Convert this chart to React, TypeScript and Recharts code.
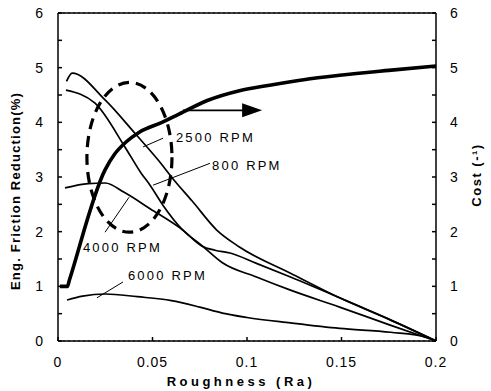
import { LineChart, Line, XAxis, YAxis, CartesianGrid, ReferenceLine, ReferenceArea, ReferenceDot, Label } from 'recharts'

// roughness (Ra) ticks and friction / cost ticks
const xTicks = [0, 0.05, 0.1, 0.15, 0.2]
const yTicks = [0, 0.5, 1, 1.5, 2, 2.5, 3, 3.5, 4, 4.5, 5, 5.5, 6]

// [roughness, friction reduction %]
const rpm2500: [number, number][] = [
  [0.0045, 4.75], [0.0075, 4.9], [0.0249, 4.41], [0.0407, 3.8], [0.053, 3.31], [0.061, 2.96],
  [0.071, 2.56], [0.084, 2.03], [0.096, 1.72], [0.123, 1.24], [0.149, 0.79], [0.175, 0.4], [0.2, 0],
]
const rpm800: [number, number][] = [
  [0.0042, 4.59], [0.0196, 4.35], [0.0354, 3.55], [0.044, 3.07], [0.0487, 2.85], [0.0556, 2.48],
  [0.066, 2.03], [0.076, 1.75], [0.087, 1.43], [0.105, 1.17], [0.123, 0.93], [0.149, 0.62],
  [0.175, 0.3], [0.2, 0],
]
const rpm4000: [number, number][] = [
  [0.0037, 2.8], [0.016, 2.88], [0.025, 2.89], [0.035, 2.72], [0.0487, 2.42], [0.066, 2.03],
  [0.076, 1.74], [0.083, 1.66], [0.091, 1.61], [0.105, 1.42], [0.123, 1.17], [0.149, 0.79],
  [0.175, 0.4], [0.2, 0],
]
const rpm6000: [number, number][] = [
  [0.0048, 0.75], [0.013, 0.82], [0.025, 0.86], [0.042, 0.81], [0.06, 0.74], [0.075, 0.62],
  [0.087, 0.51], [0.1, 0.43], [0.123, 0.33], [0.149, 0.23], [0.176, 0.16], [0.195, 0.07], [0.2, 0],
]
// [roughness, cost]
const cost: [number, number][] = [
  [0.001, 1.0], [0.005, 1.0], [0.006, 1.11], [0.0249, 3.13], [0.03, 3.42], [0.036, 3.64],
  [0.043, 3.82], [0.055, 4.0], [0.064, 4.15], [0.079, 4.4], [0.096, 4.58], [0.112, 4.68],
  [0.13, 4.78], [0.149, 4.86], [0.175, 4.95], [0.2, 5.03],
]

// curve labels: text, x, y, pointer from, pointer to
const labels: { text: string; x: number; y: number; from: [number, number]; to: [number, number] }[] = [
  { text: '2500 RPM', x: 0.0624, y: 3.71, from: [0.0556, 3.71], to: [0.045, 3.55] },
  { text: '800 RPM', x: 0.0815, y: 3.2, from: [0.0804, 3.25], to: [0.0503, 2.85] },
  { text: '4000 RPM', x: 0.0132, y: 1.7, from: [0.0249, 1.99], to: [0.0376, 2.63] },
  { text: '6000 RPM', x: 0.037, y: 1.17, from: [0.0206, 0.79], to: [0.0344, 1.08] },
]

const toPts = (d: [number, number][]) => d.map(([x, y]) => ({ x, y }))

const font = '"Liberation Sans", Arial, sans-serif'
const tickStyle = { fontSize: 14, fill: '#000', fontFamily: font, letterSpacing: 1 }

const Ellipse = (p: any) => (
  <ellipse
    cx={p.x + p.width / 2}
    cy={p.y + p.height / 2}
    rx={p.width / 2}
    ry={p.height / 2}
    fill="none"
    stroke="#000"
    strokeWidth={3.2}
    strokeDasharray="11 7"
  />
)

const Arrow = (p: any) => {
  const my = p.y + p.height / 2
  const hx = p.x + p.width - 20
  return (
    <g>
      <line x1={p.x} y1={my} x2={hx + 2} y2={my} stroke="#000" strokeWidth={1.8} />
      <polygon points={`${hx},${p.y} ${p.x + p.width},${my} ${hx},${p.y + p.height}`} fill="#000" />
    </g>
  )
}

export default function App() {
  return (
    <div style={{ position: 'absolute', left: 0, top: 0, background: '#fff' }}>
      <LineChart width={491} height={391} margin={{ top: 13, right: 0, bottom: 0, left: 0 }}>
        <CartesianGrid horizontal vertical={false} stroke="#333" strokeDasharray="2 3" />
        <XAxis
          dataKey="x"
          type="number"
          domain={[0, 0.2]}
          ticks={xTicks}
          tickFormatter={(v: number) => String(v)}
          height={50}
          stroke="#000"
          strokeWidth={1.5}
          tickSize={-4}
          tickMargin={20}
          tick={tickStyle}
          allowDuplicatedCategory={false}
        >
          <Label
            content={() => (
              <text x={241} y={383} textAnchor="middle" dominantBaseline="middle" fontFamily={font} fontWeight="bold" fontSize={13} letterSpacing={3.5}>
                Roughness (Ra)
              </text>
            )}
          />
        </XAxis>
        <YAxis
          yAxisId="left"
          type="number"
          domain={[0, 6]}
          ticks={yTicks}
          tickFormatter={(v: number) => (Number.isInteger(v) ? String(v) : '')}
          width={58}
          stroke="#000"
          strokeWidth={1.5}
          tickSize={-4}
          tickMargin={18}
          tick={tickStyle}
        >
          <Label
            content={() => (
              <text x={17} y={191} transform="rotate(-90 17 191)" textAnchor="middle" dominantBaseline="middle" fontFamily={font} fontWeight="bold" fontSize={13} letterSpacing={1.2}>
                Eng. Friction Reduction(%)
              </text>
            )}
          />
        </YAxis>
        <YAxis
          yAxisId="right"
          orientation="right"
          type="number"
          domain={[0, 6]}
          ticks={yTicks}
          tickFormatter={(v: number) => (Number.isInteger(v) ? String(v) : '')}
          width={55}
          stroke="#000"
          strokeWidth={1.5}
          tickSize={-4}
          tickMargin={18}
          tick={{ ...tickStyle, textAnchor: 'start' }}
        >
          <Label
            content={() => (
              <text x={478} y={175} transform="rotate(-90 478 175)" textAnchor="middle" dominantBaseline="middle" fontFamily={font} fontWeight="bold" fontSize={13} letterSpacing={1.5}>
                Cost (-¹)
              </text>
            )}
          />
        </YAxis>
        <ReferenceLine yAxisId="left" y={6} stroke="#000" strokeWidth={1.5} />

        <Line yAxisId="left" data={toPts(rpm2500)} dataKey="y" type="monotone" stroke="#000" strokeWidth={1.7} dot={false} isAnimationActive={false} />
        <Line yAxisId="left" data={toPts(rpm800)} dataKey="y" type="monotone" stroke="#000" strokeWidth={1.7} dot={false} isAnimationActive={false} />
        <Line yAxisId="left" data={toPts(rpm4000)} dataKey="y" type="monotone" stroke="#000" strokeWidth={1.7} dot={false} isAnimationActive={false} />
        <Line yAxisId="left" data={toPts(rpm6000)} dataKey="y" type="monotone" stroke="#000" strokeWidth={1.7} dot={false} isAnimationActive={false} />
        <Line yAxisId="right" data={toPts(cost)} dataKey="y" type="monotone" stroke="#000" strokeWidth={3.6} strokeLinejoin="round" dot={false} isAnimationActive={false} />

        <ReferenceArea yAxisId="left" x1={0.0153} x2={0.0603} y1={1.99} y2={4.73} shape={Ellipse} ifOverflow="visible" />
        <ReferenceArea yAxisId="right" x1={0.0661} x2={0.108} y1={4.092} y2={4.348} shape={Arrow} ifOverflow="visible" />

        {labels.map((l) => (
          <ReferenceLine
            key={l.text + '-ptr'}
            yAxisId="left"
            segment={[{ x: l.from[0], y: l.from[1] }, { x: l.to[0], y: l.to[1] }]}
            stroke="#000"
            strokeWidth={1}
          />
        ))}
        {labels.map((l) => (
          <ReferenceDot
            key={l.text}
            yAxisId="left"
            x={l.x}
            y={l.y}
            r={0}
            shape={(p: any) => (
              <text x={p.cx} y={p.cy} dominantBaseline="middle" fontFamily={font} fontSize={13} letterSpacing={2.2} fill="#000">
                {l.text}
              </text>
            )}
          />
        ))}
      </LineChart>
    </div>
  )
}
